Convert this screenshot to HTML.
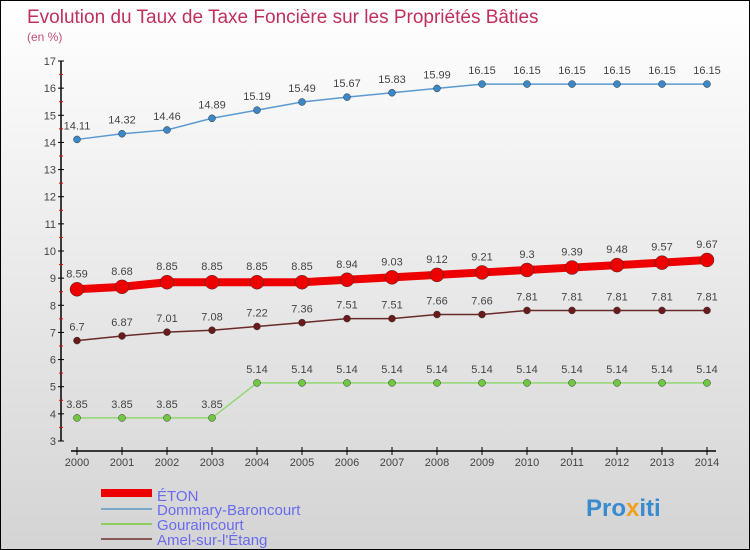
<!DOCTYPE html>
<html><head><meta charset="utf-8"><style>
body{margin:0}
#c{position:relative;width:750px;height:550px;box-sizing:border-box;border:1px solid #000;background:linear-gradient(#fff,#d4d4d4);font-family:"Liberation Sans",sans-serif;overflow:hidden}
</style></head><body>
<div id="c">
<svg id="s" width="750" height="550" style="position:absolute;left:0;top:0">
<text x="26" y="22" font-size="19" fill="#c0305c">Evolution du Taux de Taxe Foncière sur les Propriétés Bâties</text>
<text x="26" y="40" font-size="12" fill="#c0507c">(en %)</text>
<g id="axes"></g><g id="series"></g>
<g>
<line x1="100" y1="492" x2="151" y2="492" stroke="#e00" stroke-width="8"/>
<text x="156" y="500" font-size="15" fill="#6a6af0">ÉTON</text>
<line x1="100" y1="508" x2="151" y2="508" stroke="#7aa8c8" stroke-width="2"/>
<text x="156" y="514" font-size="15" fill="#6a6af0">Dommary-Baroncourt</text>
<line x1="100" y1="523" x2="151" y2="523" stroke="#8cd060" stroke-width="2"/>
<text x="156" y="529" font-size="15" fill="#6a6af0">Gouraincourt</text>
<line x1="100" y1="538" x2="151" y2="538" stroke="#8a5a5a" stroke-width="2"/>
<text x="156" y="544" font-size="15" fill="#6a6af0">Amel-sur-l'Étang</text>
</g>
<text x="585" y="515" font-size="24" font-weight="bold" fill="#3a8ad0">Pro<tspan fill="#f0a020">x</tspan>iti</text>
</svg>
</div>
<script>
const years=[2000,2001,2002,2003,2004,2005,2006,2007,2008,2009,2010,2011,2012,2013,2014];
const yTicks=[3,4,5,6,7,8,9,10,11,12,13,14,15,16,17];
const eton=[8.59,8.68,8.85,8.85,8.85,8.85,8.94,9.03,9.12,9.21,9.3,9.39,9.48,9.57,9.67];
const dommary=[14.11,14.32,14.46,14.89,15.19,15.49,15.67,15.83,15.99,16.15,16.15,16.15,16.15,16.15,16.15];
const gour=[3.85,3.85,3.85,3.85,5.14,5.14,5.14,5.14,5.14,5.14,5.14,5.14,5.14,5.14,5.14];
const amel=[6.7,6.87,7.01,7.08,7.22,7.36,7.51,7.51,7.66,7.66,7.81,7.81,7.81,7.81,7.81];
const NS="http://www.w3.org/2000/svg";
const xS=i=>76+i*45;
const yS=v=>440-(v-3)*(380/14);
function mk(t,a,p){const e=document.createElementNS(NS,t);for(const k in a)e.setAttribute(k,a[k]);p.appendChild(e);return e;}
const ax=document.getElementById('axes');
let l=mk('line',{x1:60,y1:60,x2:60,y2:440,stroke:'#000','stroke-width':1.5},ax);


yTicks.forEach(v=>{
 mk('line',{x1:57,y1:yS(v),x2:63,y2:yS(v),stroke:'#000'},ax);
 if(v<17){mk('line',{x1:58,y1:yS(v+0.5),x2:62,y2:yS(v+0.5),stroke:'#e00'},ax);}
 const t=mk('text',{x:55,y:yS(v)+4,'font-size':11,'text-anchor':'end',fill:'#444'},ax);t.textContent=v;
 
 
});
l=mk('line',{x1:70,y1:450,x2:715,y2:450,stroke:'#000','stroke-width':1.5},ax);


years.forEach((y,i)=>{
 mk('line',{x1:xS(i),y1:446,x2:xS(i),y2:454,stroke:'#000'},ax);
 const t=mk('text',{x:xS(i),y:465,'font-size':11,'text-anchor':'middle',fill:'#444'},ax);t.textContent=y;
 
 
});
const sg=document.getElementById('series');
function draw(data,color,dot,w,r,name,lblOff){
 const g=mk('g',{},sg);
 
 
 const p=mk('polyline',{points:data.map((v,i)=>xS(i)+','+yS(v)).join(' '),fill:'none',stroke:color,'stroke-width':w},g);
 data.forEach((v,i)=>{
  const c=mk('circle',{cx:xS(i),cy:yS(v),r:r,fill:dot,stroke:'#333','stroke-width':0.5},g);
  
  
  const t=mk('text',{x:xS(i),y:yS(v)-lblOff,'font-size':11,'text-anchor':'middle',fill:'#444'},g);t.textContent=v;
  
  
 });
}
draw(dommary,'#5a9ad0','#3a88c8',1.5,3.5,'series-dommary',10);
draw(gour,'#90d870','#70c840',1.5,3.5,'series-gouraincourt',10);
draw(amel,'#6a2a2a','#6a1a1a',1.5,3.5,'series-amel',10);
draw(eton,'#e00','#e00',8,7,'series-eton',12);
</script>
</body></html>
